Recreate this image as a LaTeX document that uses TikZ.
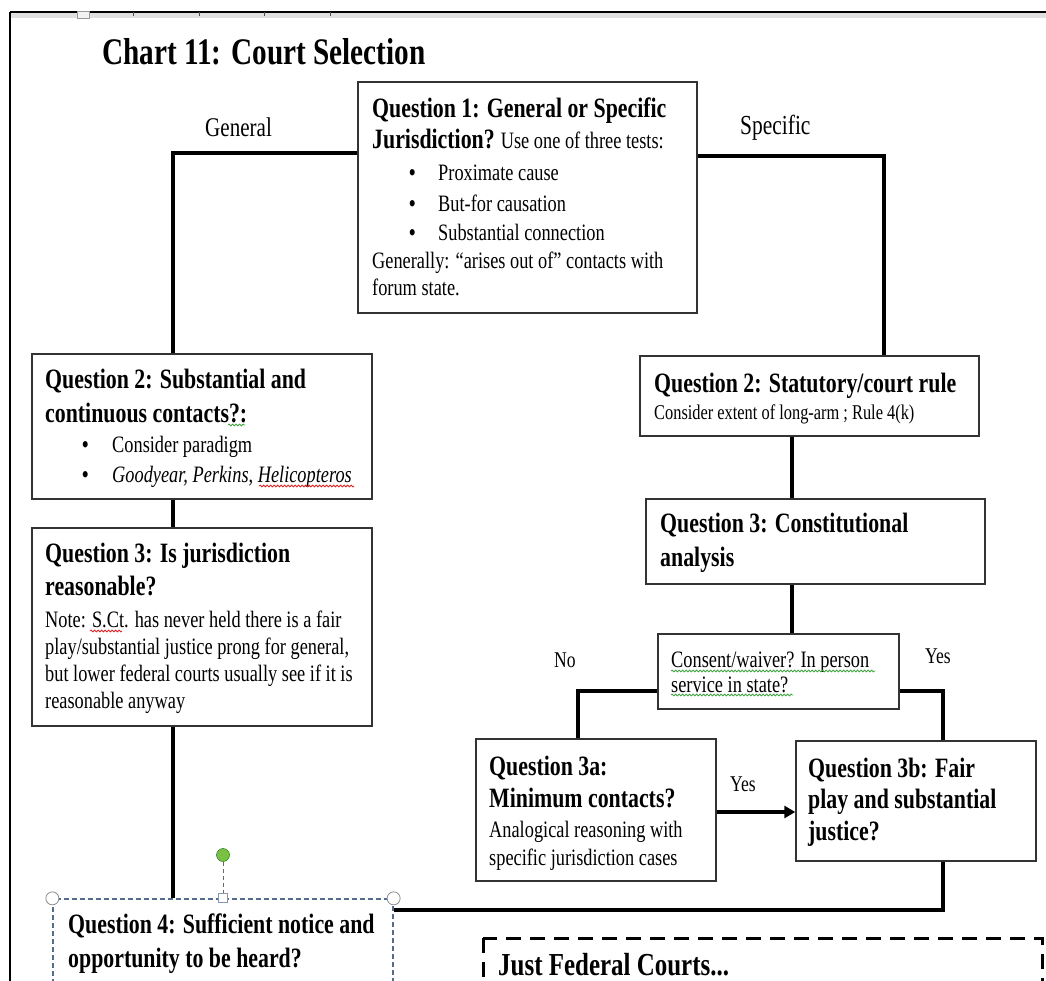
\documentclass[tikz,border=0pt]{standalone}
\usepackage{fontspec}
\setmainfont{Liberation Serif}[FakeStretch=0.78]
\usetikzlibrary{arrows.meta,decorations.pathmorphing,calc}
\newcommand\hd{\fontsize{28}{32}\selectfont\bfseries}
\newcommand\bd{\fontsize{23.5}{27}\selectfont}
\newcommand\tstr{\rule{0pt}{22pt}}
\newcommand\bul[1]{\hspace*{37pt}\makebox[#1][l]{\textbf{\textbullet}}}
\definecolor{selblue}{HTML}{556B8C}
\definecolor{handlegray}{HTML}{8C8C8C}
\definecolor{rotgreen}{HTML}{7AC143}
\definecolor{spellred}{HTML}{E02020}
\definecolor{spellgreen}{HTML}{3FA33F}
\tikzset{
  box/.style={draw=black!80, line width=1.4pt, fill=white, inner sep=0pt, rectangle},
  txt/.style={anchor=north west, inner sep=0pt, align=left, font=\bd},
  conn/.style={draw=black, line width=4pt},
  lbl/.style={anchor=base west, inner sep=0pt},
  wavy/.style={decorate, decoration={snake, amplitude=0.9pt, segment length=3.5pt}, line width=0.8pt},
}
\begin{document}
\begin{tikzpicture}[x=1pt,y=-1pt]
\useasboundingbox (0,0) rectangle (1046,981);
\fill[white] (0,0) rectangle (1046,981);
% window frame / ruler
\fill[black!12] (10,12) rectangle (1046,18);
\draw[black, line width=2pt] (10,12) -- (1046,12);
\draw[black, line width=2.5pt] (10,12) -- (10,981);
\foreach \tx in {133,199,264,330} \draw[black!70, line width=0.8pt] (\tx,12) -- (\tx,16);
\draw[black!40, fill=black!5, line width=0.8pt] (77,11) rectangle (89,18);

% title
\node[lbl, font=\fontsize{37.5}{40}\selectfont\bfseries] (title) at (102,65) {Chart 11: Court Selection};

% boxes
\node[box, minimum width=339pt, minimum height=231pt] (q1) at (527.5,197.5) {};
\node[box, minimum width=340pt, minimum height=145pt] (q2l) at (202,426.5) {};
\node[box, minimum width=340pt, minimum height=198pt] (q3l) at (202,627) {};
\node[box, minimum width=339pt, minimum height=80pt] (q2r) at (809.5,396) {};
\node[box, minimum width=339pt, minimum height=85pt] (q3r) at (815.5,541.5) {};
\node[box, minimum width=241pt, minimum height=75pt] (cons) at (778.5,671.5) {};
\node[box, minimum width=240pt, minimum height=142pt] (q3a) at (596,810) {};
\node[box, minimum width=240pt, minimum height=120pt] (q3b) at (916,801) {};
\node[draw=selblue, dashed, dash pattern=on 5pt off 3pt, line width=1.3pt, fill=white, inner sep=0pt,
      minimum width=340pt, minimum height=112pt] (q4) at (223,955) {};

% connector helpers
\coordinate (gx) at (173,153);
\coordinate (sx) at (884,156);
\coordinate (rx) at (792,0);
\coordinate (nx) at (578,691);
\coordinate (yx) at (943,691);
\coordinate (bx) at (943,910);

% connectors
\draw[conn] (q1.west |- gx) -| (q2l.north -| gx);
\draw[conn] (q1.east |- sx) -| (q2r.north -| sx);
\draw[conn] (q2l.south -| gx) -- (q3l.north -| gx);
\draw[conn] (q3l.south -| gx) -- (q4.north -| gx);
\draw[conn] (q2r.south -| rx) -- (q3r.north -| rx);
\draw[conn] (q3r.south -| rx) -- (cons.north -| rx);
\draw[conn] (cons.west |- nx) -| (q3a.north -| nx);
\draw[conn] (cons.east |- yx) -| (q3b.north -| yx);
\draw[conn, -{Triangle[length=11pt,width=12pt]}] (q3a.east |- 0,812) -- (q3b.west |- 0,812);
\draw[conn] (q3b.south -| bx) |- (q4.east |- bx);

% labels
\node[lbl, font=\fontsize{27}{30}\selectfont] (lgen) at (205,137) {General};
\node[lbl, font=\fontsize{27.5}{30}\selectfont] (lspec) at (740,135) {Specific};
\node[lbl, font=\fontsize{22.5}{26}\selectfont] (lno) at (554,667) {No};
\node[lbl, font=\fontsize{22.5}{26}\selectfont] (lyes1) at (925,663) {Yes};
\node[lbl, font=\fontsize{22.5}{26}\selectfont] (lyes2) at (730,791) {Yes};

% box texts
\node[txt] (q1t) at (372,95) {\tstr{\hd Question 1: General or Specific}\\[4pt]
{\hd Jurisdiction?} Use one of three tests:\\[5pt]
\bul{29pt}Proximate cause\\[4pt]
\bul{29pt}But-for causation\\[2pt]
\bul{29pt}Substantial connection\\[1pt]
Generally: “arises out of” contacts with\\
forum state.};

\node[txt] (q2lt) at (45,366) {\tstr{\hd Question 2: Substantial and}\\[7pt]
{\hd continuous contacts?:}\\[3pt]
\bul{30pt}Consider paradigm\\[3pt]
\bul{30pt}\textit{Goodyear, Perkins, Helicopteros}};

\node[txt] (q3lt) at (45,540) {\tstr{\hd Question 3: Is jurisdiction}\\[6pt]
{\hd reasonable?}\\[5pt]
Note: S.Ct. has never held there is a fair\\
play/substantial justice prong for general,\\
but lower federal courts usually see if it is\\
reasonable anyway};

\node[txt] (q2rt) at (654,370) {\tstr{\hd Question 2: Statutory/court rule}\\[0pt]
{\fontsize{21}{24}\selectfont Consider extent of long-arm ; Rule 4(k)}};

\node[txt] (q3rt) at (660,510) {\tstr{\hd Question 3: Constitutional}\\[7pt]
{\hd analysis}};

\node[txt] (const) at (671,645) {\tstr Consent/waiver? In person\\[-2pt]
service in state?};

\node[txt] (q3at) at (489,753) {\tstr{\hd Question 3a:}\\[5pt]
{\hd Minimum contacts?}\\[3pt]
Analogical reasoning with\\[1pt]
specific jurisdiction cases};

\node[txt] (q3bt) at (808,755) {\tstr{\hd Question 3b: Fair}\\[4pt]
{\hd play and substantial}\\[5pt]
{\hd justice?}};

\node[txt] (q4t) at (68,911) {\tstr{\hd Question 4: Sufficient notice and}\\[7pt]
{\hd opportunity to be heard?}};

% spelling underlines
\draw[wavy, spellgreen] (228,425) -- (245,425);
\draw[wavy, spellred] (259,486) -- (354,486);
\draw[wavy, spellred] (90,631) -- (122,631);
\draw[wavy, spellgreen] (671,671) -- (875,671);
\draw[wavy, spellgreen] (671,695) -- (793,695);

% selection handles on question 4
\draw[selblue, dashed, dash pattern=on 4pt off 3pt, line width=1pt] (q4.north) ++(0,-4) coordinate (stemlo) -- (223,862) coordinate (stemhi);
\node[circle, draw=black!60!green, fill=rotgreen, minimum size=13pt, inner sep=0pt] (rot) at (223,855) {};
\node[rectangle, draw=selblue!70, fill=white, minimum size=9pt, inner sep=0pt, line width=0.8pt] (hm) at (q4.north) {};
\node[circle, draw=handlegray, fill=white, minimum size=13pt, inner sep=0pt, line width=0.8pt] (hl) at (q4.north west) {};
\node[circle, draw=handlegray, fill=white, minimum size=13pt, inner sep=0pt, line width=0.8pt] (hr) at (q4.north east) {};

% just federal courts box
\draw[black, line width=3pt, dash pattern=on 15pt off 9pt] (483,938) rectangle (1042,1010);
\node[lbl, font=\fontsize{32}{36}\selectfont\bfseries] (fed) at (498,975) {Just Federal Courts...};
\end{tikzpicture}
\end{document}
